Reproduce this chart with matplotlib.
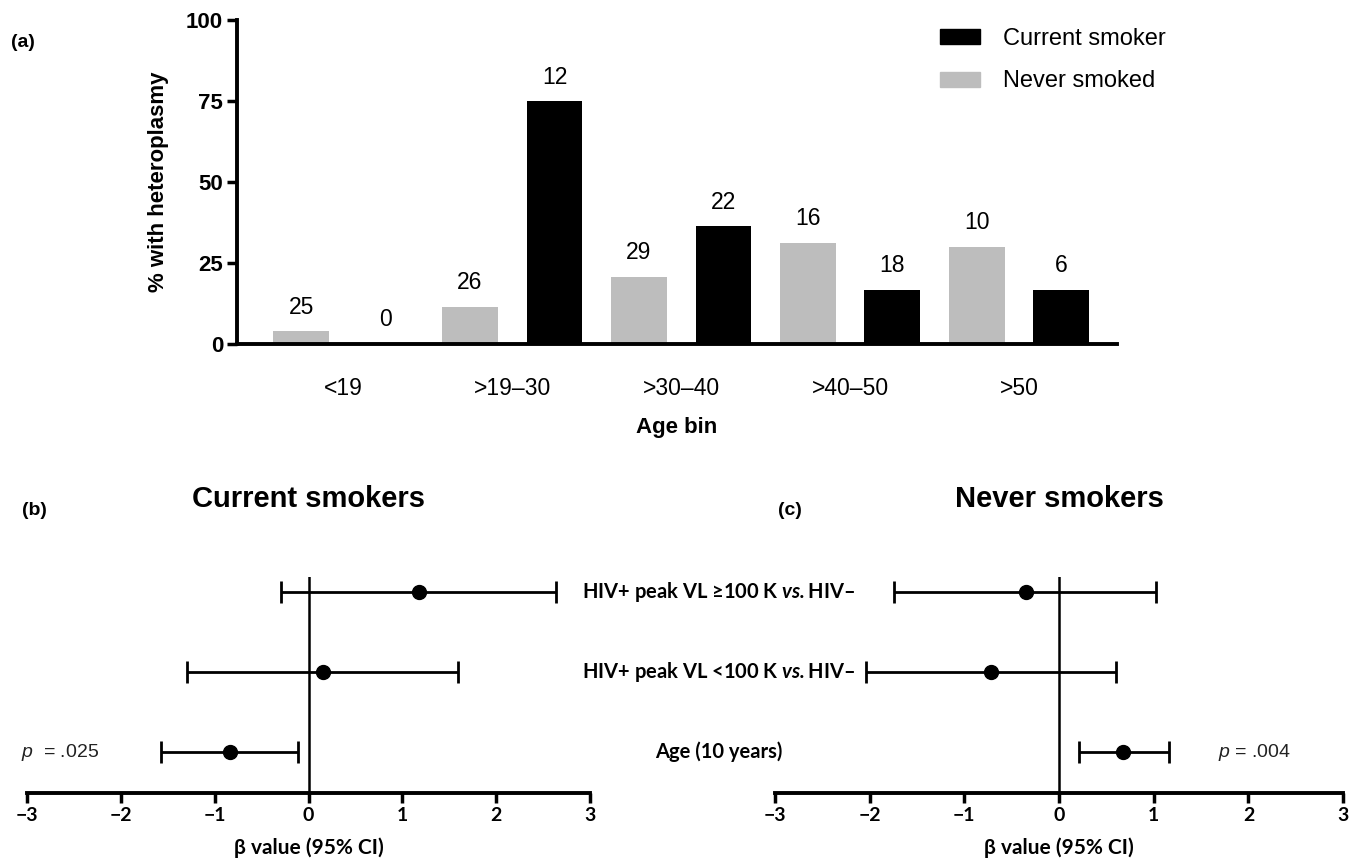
import numpy as np
import matplotlib
matplotlib.use("Agg")
import matplotlib.pyplot as plt
from matplotlib.patches import Patch
from matplotlib.transforms import blended_transform_factory

plt.rcParams['font.family'] = ['Liberation Sans Narrow', 'Liberation Sans', 'DejaVu Sans']
plt.rcParams['mathtext.fontset'] = 'custom'
plt.rcParams['mathtext.bfit'] = 'Lato:italic:bold'
plt.rcParams['mathtext.bf'] = 'Lato:bold'
plt.rcParams['mathtext.it'] = 'Liberation Sans:italic'
plt.rcParams['mathtext.rm'] = 'Liberation Sans'

# panel (a) data
age_bins = ['<19', '>19\u201330', '>30\u201340', '>40\u201350', '>50']
never_pct = [4.0, 11.5, 20.7, 31.25, 30.0]
never_n = [25, 26, 29, 16, 10]
current_pct = [0.0, 75.0, 36.4, 16.7, 16.7]
current_n = [0, 12, 22, 18, 6]

# panels (b), (c) data
row_labels = ['HIV+ peak VL \u2265100 K $\\mathbfit{vs.}$HIV\u2013',
              'HIV+ peak VL <100 K $\\mathbfit{vs.}$HIV\u2013',
              'Age (10 years)']
cur_beta = [1.18, 0.15, -0.84]
cur_lo = [-0.29, -1.30, -1.57]
cur_hi = [2.64, 1.59, -0.11]
nev_beta = [-0.35, -0.72, 0.68]
nev_lo = [-1.74, -2.04, 0.21]
nev_hi = [1.02, 0.60, 1.16]
cur_p = '$p$  = .025'
nev_p = '$p$ = .004'

GRAY = '#bdbdbd'
fig = plt.figure(figsize=(13.58, 8.63), dpi=100)

# ---- panel (a)
ax = fig.add_axes([0.1745, 0.6014, 0.648, 0.3754])
xg = np.arange(len(age_bins)) * 2
xc = xg + 1
bw = 0.66
bg = ax.bar(xg, never_pct, bw, color=GRAY)
bc = ax.bar(xc, current_pct, bw, color='black')
for bars, ns in ((bg, never_n), (bc, current_n)):
    for b, n in zip(bars, ns):
        ax.annotate(str(n), (b.get_x() + b.get_width() / 2, b.get_height()),
                    xytext=(0, 9), textcoords='offset points',
                    ha='center', va='bottom', fontsize=16.5)
ax.set_xlim(-0.76, 9.66)
ax.set_ylim(0, 100)
ax.set_yticks([0, 25, 50, 75, 100])
ax.set_xticks(xg + 0.5)
ax.set_xticklabels(age_bins, fontsize=16.5)
ax.tick_params(axis='x', length=0, pad=24)
ax.tick_params(axis='y', length=7, width=2.5, labelsize=16, pad=3)
for t in ax.get_yticklabels():
    t.set_fontweight('bold')
for s in ('top', 'right'):
    ax.spines[s].set_visible(False)
for s in ('left', 'bottom'):
    ax.spines[s].set_linewidth(2.8)
ax.set_ylabel('% with heteroplasmy', fontsize=16, fontweight='bold',
              family=['Liberation Sans', 'DejaVu Sans'], labelpad=12)
ax.set_xlabel('Age bin', fontsize=16, fontweight='bold',
              family=['Liberation Sans', 'DejaVu Sans'], labelpad=12)
ax.legend([Patch(color='black'), Patch(color=GRAY)],
          ['Current smoker', 'Never smoked'], frameon=False, fontsize=17,
          loc='upper right', bbox_to_anchor=(1.08, 1.04), handlelength=1.7,
          handleheight=0.6, labelspacing=0.85, handletextpad=1.0)
fig.text(0.008, 0.951, '(a)', fontsize=14, fontweight='bold', va='center',
         family=['Liberation Sans', 'DejaVu Sans'])


# ---- panels (b), (c)
def forest(ax, beta, lo, hi, title, ptxt, px):
    y = np.arange(len(beta))[::-1] + 1
    err = [np.array(beta) - np.array(lo), np.array(hi) - np.array(beta)]
    ax.errorbar(beta, y, xerr=err, fmt='o', color='black', ms=10,
                elinewidth=2, capsize=8, capthick=2)
    ax.axvline(0, color='black', lw=1.8)
    ax.set_xlim(-3, 3)
    ax.set_ylim(0.49, 3.19)
    ax.set_yticks([])
    ax.set_xticks(range(-3, 4))
    ax.set_xticklabels(['\u22123', '\u22122', '\u22121', '0', '1', '2', '3'])
    ax.tick_params(axis='x', length=7, width=2.5, labelsize=14, pad=3)
    for t in ax.get_xticklabels():
        t.set_fontweight('bold')
        t.set_family(['Lato', 'DejaVu Sans'])
    for s in ('top', 'right', 'left'):
        ax.spines[s].set_visible(False)
    ax.spines['bottom'].set_linewidth(2.8)
    ax.set_xlabel('\u03b2 value (95% CI)', fontsize=15, fontweight='bold',
                  family=['Lato', 'DejaVu Sans'], labelpad=10)
    ax.text(0.5, 1.36, title, transform=ax.transAxes, ha='center',
            va='center', fontsize=21, fontweight='bold',
            family=['Liberation Sans', 'DejaVu Sans'])
    ax.text(px, y[-1], ptxt, ha='left', va='center', fontsize=14,
            family=['Liberation Sans', 'DejaVu Sans'], color='#222222')
    return y


ax_b = fig.add_axes([0.0199, 0.0811, 0.4146, 0.2503])
ax_c = fig.add_axes([0.5707, 0.0811, 0.4183, 0.2503])
rows = forest(ax_b, cur_beta, cur_lo, cur_hi, 'Current smokers', cur_p, -3.06)
forest(ax_c, nev_beta, nev_lo, nev_hi, 'Never smokers', nev_p, 1.68)

tr = blended_transform_factory(fig.transFigure, ax_b.transData)
for lab, yy in zip(row_labels, rows):
    fig.text(0.529, yy, lab, transform=tr, ha='center', va='center',
             fontsize=14.5, fontweight='bold', family=['Lato', 'DejaVu Sans'])

fig.text(0.016, 0.409, '(b)', fontsize=14, fontweight='bold', va='center',
         family=['Liberation Sans', 'DejaVu Sans'])
fig.text(0.573, 0.409, '(c)', fontsize=14, fontweight='bold', va='center',
         family=['Liberation Sans', 'DejaVu Sans'])

fig.savefig('out.png', dpi=100)
